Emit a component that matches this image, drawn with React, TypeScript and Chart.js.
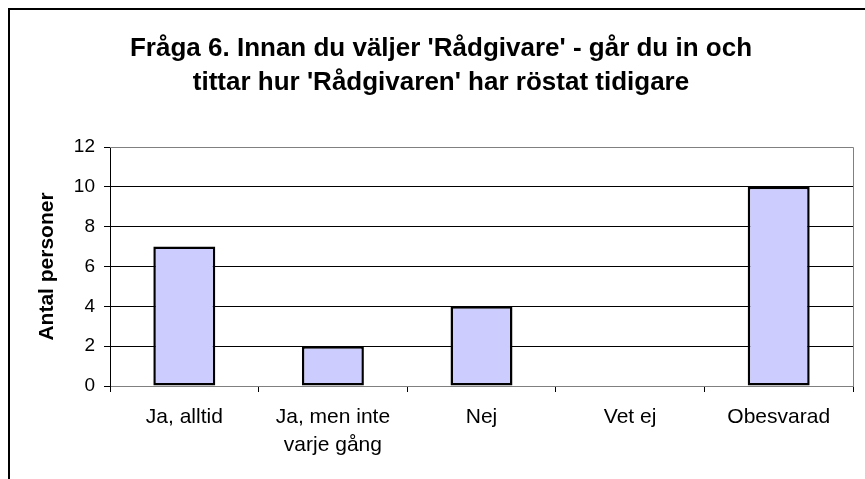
import React, { useEffect, useRef } from "react";
import { Chart, registerables } from "chart.js";

Chart.register(...registerables);

const categories: (string | string[])[] = [
  "Ja, alltid",
  ["Ja, men inte", "varje gång"],
  "Nej",
  "Vet ej",
  "Obesvarad",
];
const values: number[] = [7, 2, 4, 0, 10];
const titleLines: string[] = [
  "Fråga 6. Innan du väljer 'Rådgivare' - går du in och",
  "tittar hur 'Rådgivaren' har röstat tidigare",
];
const yAxisTitle = "Antal personer";
const yMin = 0;
const yMax = 12;
const yStep = 2;

const FONT = "'Liberation Sans', Arial, sans-serif";

const decor = {
  id: "decor",
  beforeDraw(chart: any) {
    const { ctx } = chart;
    ctx.save();
    ctx.fillStyle = "#fff";
    ctx.fillRect(0, 0, chart.width, chart.height);
    ctx.restore();
  },
  afterDatasetsDraw(chart: any) {
    const { ctx, chartArea } = chart;
    ctx.save();
    ctx.strokeStyle = "#808080";
    ctx.lineWidth = 1;
    ctx.beginPath();
    ctx.moveTo(chartArea.left, chartArea.top + 0.5);
    ctx.lineTo(chartArea.right + 0.5, chartArea.top + 0.5);
    ctx.lineTo(chartArea.right + 0.5, chartArea.bottom);
    ctx.stroke();
    ctx.restore();
  },
  afterDraw(chart: any) {
    const { ctx } = chart;
    ctx.save();
    // outer frame
    ctx.strokeStyle = "#000";
    ctx.lineWidth = 2;
    ctx.beginPath();
    ctx.moveTo(9, chart.height);
    ctx.lineTo(9, 9);
    ctx.lineTo(chart.width, 9);
    ctx.stroke();
    // title
    ctx.fillStyle = "#000";
    ctx.font = `bold 26px ${FONT}`;
    ctx.textAlign = "center";
    ctx.textBaseline = "alphabetic";
    ctx.fillText(titleLines[0], 441, 56);
    ctx.fillText(titleLines[1], 441, 90);
    ctx.restore();
  },
};

export default function App() {
  const ref = useRef<HTMLCanvasElement>(null);
  useEffect(() => {
    document.body.style.margin = "0";
    document.body.style.overflow = "hidden";
    const chart = new Chart(ref.current!, {
      type: "bar",
      data: {
        labels: categories,
        datasets: [
          {
            data: values,
            backgroundColor: "#CCCCFF",
            borderColor: "#000",
            borderWidth: 2.5,
            borderSkipped: false,
            barPercentage: 0.417,
            categoryPercentage: 1,
          },
        ],
      },
      options: {
        animation: false,
        responsive: false,
        maintainAspectRatio: false,
        layout: { padding: { top: 147, right: 12, bottom: 0, left: 0 } },
        plugins: {
          legend: { display: false },
          title: { display: false },
          tooltip: { enabled: false },
        },
        scales: {
          x: {
            offset: true,
            grid: {
              offset: true,
              drawOnChartArea: false,
              tickLength: 6,
              color: "#000",
            },
            border: { color: "#808080", width: 1 },
            ticks: {
              color: "#000",
              font: { family: FONT, size: 21, lineHeight: 1.3 },
              padding: 12,
              maxRotation: 0,
              autoSkip: false,
            },
            afterFit(scale: any) {
              scale.height = 93;
            },
          },
          y: {
            min: yMin,
            max: yMax,
            grid: {
              color: (c: any) =>
                c.tick && (c.tick.value === yMax || c.tick.value === yMin) ? "#808080" : "#000",
              tickColor: "#000",
              tickLength: 6,
            },
            border: { color: "#000", width: 1 },
            ticks: {
              stepSize: yStep,
              color: "#000",
              font: { family: FONT, size: 19 },
              padding: 9,
            },
            title: {
              display: true,
              text: yAxisTitle,
              color: "#000",
              font: { family: FONT, size: 21, weight: "bold" },
              padding: { top: 35, bottom: 0 },
            },
            afterFit(scale: any) {
              scale.width = 110;
            },
          },
        },
      },
      plugins: [decor],
    });
    return () => chart.destroy();
  }, []);
  return <canvas ref={ref} width={865} height={479} style={{ display: "block" }} />;
}
